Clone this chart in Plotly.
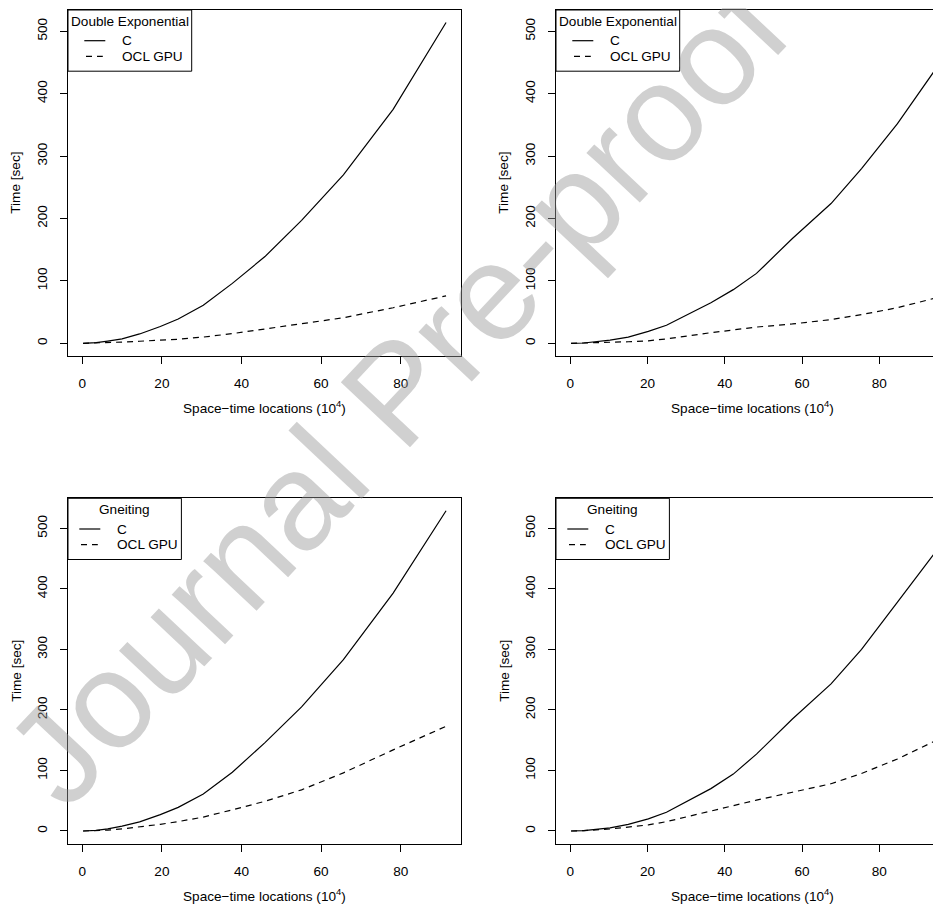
import plotly.graph_objects as go

# ---------------- data ----------------
x_left = [0.2, 3.5, 6.4, 10.0, 14.4, 19.6, 24.1, 30.4, 37.7, 45.9, 55.1, 65.6, 78.1, 91.4]
x_right = [0.2, 3.5, 10.3, 15.0, 20.2, 24.9, 36.4, 42.2, 48.2, 57.5, 67.5, 75.4, 84.7, 94.2]

dexp_left_c = [0, 1, 3.5, 7, 15, 27, 39, 61, 96, 139, 197, 270, 375, 514]
dexp_left_ocl = [0, 0.3, 1, 2, 3.3, 5, 6.5, 10, 15.5, 23, 31, 41, 57, 76]
dexp_right_c = [0, 0.5, 5, 10, 19, 29, 65, 86, 112, 168, 224, 280, 352, 436]
dexp_right_ocl = [0, 0.3, 1.5, 2.5, 4, 7, 17, 21, 26, 31, 38, 46, 57, 72]
gne_left_c = [0, 1, 3.5, 8, 15, 27, 39, 61, 97, 146, 205, 283, 393, 529]
gne_left_ocl = [0, 0.5, 1.5, 3.5, 6.5, 11, 15.5, 23, 35, 49, 68, 96, 134, 173]
gne_right_c = [0, 0.5, 5, 11, 20, 31, 70, 94, 127, 185, 243, 300, 378, 458]
gne_right_ocl = [0, 0.5, 3.3, 6, 10, 15.4, 33, 42, 51, 64, 78, 95, 119, 148]

series_names = ["C", "OCL GPU"]
panel_titles = ["Double Exponential", "Double Exponential", "Gneiting", "Gneiting"]
x_ticks = [0, 20, 40, 60, 80]
y_ticks = [0, 100, 200, 300, 400, 500]
x_title = "Space\u2212time locations (10<sup>4</sup>)"
y_title = "Time [sec]"
watermark = "Journal Pre-proof"

# ---------------- layout helpers ----------------
PAGE_W, PAGE_H = 941, 906
OFF = 8  # default body margin of the html page
W, H = PAGE_W - OFF, PAGE_H - OFF
FONT = "Liberation Sans, Arial, Helvetica, sans-serif"
FS = 13.6


def fx(p):  # page pixel x -> paper
    return (p - OFF) / W


def fy(p):  # page pixel y -> paper
    return 1 - (p - OFF) / H


panels = [
    # (xdata, c, ocl, xpix(l,r), ypix(t,b), xrange, yrange, mirror_y)
    (x_left, dexp_left_c, dexp_left_ocl, (68, 461), (10, 356), [-3.59, 95.15], [-20.35, 534.1], True),
    (x_right, dexp_right_c, dexp_right_ocl, (556, 941), (10, 356), [-3.70, 95.97], [-20.35, 534.1], False),
    (x_left, gne_left_c, gne_left_ocl, (68, 461), (498.3, 844), [-3.59, 95.15], [-21.5, 549.6], True),
    (x_right, gne_right_c, gne_right_ocl, (556, 941), (498.3, 844), [-3.70, 95.97], [-21.5, 549.6], False),
]

fig = go.Figure()
layout = dict(
    width=W, height=H,
    margin=dict(l=0, r=0, t=0, b=0),
    paper_bgcolor="white", plot_bgcolor="white",
    font=dict(family=FONT, size=FS, color="black"),
    showlegend=False,
)
shapes = []
annotations = []

DASH = "6px,5px"
tfont = dict(family=FONT, size=FS, color="black")

for i, (xd, yc, yo, (xl, xr), (yt, yb), xr_, yr_, mir) in enumerate(panels):
    n = "" if i == 0 else str(i + 1)
    xa, ya = "x" + n, "y" + n
    fig.add_trace(go.Scatter(x=xd, y=yc, mode="lines", name=series_names[0],
                             line=dict(color="black", width=1.2),
                             xaxis=xa, yaxis=ya))
    fig.add_trace(go.Scatter(x=xd, y=yo, mode="lines", name=series_names[1],
                             line=dict(color="black", width=1.2, dash=DASH),
                             xaxis=xa, yaxis=ya))
    layout["xaxis" + n] = dict(
        domain=[max(0, fx(xl)), min(1, fx(xr))], range=xr_, anchor=ya,
        tickvals=x_ticks, ticks="outside", ticklen=7, tickwidth=1, tickcolor="black",
        showline=True, linecolor="black", linewidth=1, mirror=True,
        showgrid=False, zeroline=False, automargin=False,
        tickfont=tfont, ticklabelstandoff=8,
    )
    layout["yaxis" + n] = dict(
        domain=[fy(yb), fy(yt)], range=yr_, anchor=xa,
        tickvals=y_ticks, ticks="outside", ticklen=7, tickwidth=1, tickcolor="black",
        showline=True, linecolor="black", linewidth=1, mirror=mir,
        showgrid=False, zeroline=False, automargin=False, tickangle=-90,
        tickfont=tfont, ticklabelstandoff=8,
    )
    # axis titles
    annotations.append(dict(text=x_title, xref="paper", yref="paper",
                            x=fx(xl + 196.5), y=fy(yb + 51), xanchor="center", yanchor="middle",
                            showarrow=False, font=tfont))
    annotations.append(dict(text=y_title, xref="paper", yref="paper",
                            x=fx(xl - 52.3), y=fy((yt + yb) / 2), xanchor="center", yanchor="middle",
                            textangle=-90, showarrow=False, font=tfont))
    # legend box
    bw = 123.7 if i < 2 else 113.4
    shapes.append(dict(type="rect", xref="paper", yref="paper",
                       x0=fx(xl), x1=fx(xl + bw), y0=fy(yt + 61.2), y1=fy(yt),
                       line=dict(color="black", width=1), fillcolor="white", layer="above"))
    annotations.append(dict(text=panel_titles[i], xref="paper", yref="paper",
                            x=fx(xl + bw / 2), y=fy(yt + 11.7), xanchor="center", yanchor="middle",
                            showarrow=False, font=tfont))
    lx0 = xl + (16.3 if i < 2 else 11.3)
    rows = [yt + 30.7, yt + 46.3]
    for r, (ry, nm) in enumerate(zip(rows, series_names)):
        shapes.append(dict(type="line", xref="paper", yref="paper",
                           x0=fx(lx0 + (0 if r == 0 else 1.7)), x1=fx(lx0 + (21 if r == 0 else 18.5)),
                           y0=fy(ry), y1=fy(ry),
                           line=dict(color="black", width=1.2, dash="solid" if r == 0 else DASH),
                           layer="above"))
        annotations.append(dict(text=nm, xref="paper", yref="paper",
                                x=fx(lx0 + 35.5), y=fy(ry), xanchor="left", yanchor="middle",
                                showarrow=False, font=tfont))

# watermark
annotations.append(dict(text=watermark, xref="paper", yref="paper",
                        x=fx(396), y=fy(392), xanchor="center", yanchor="middle",
                        textangle=-46.8, showarrow=False,
                        font=dict(family=FONT, size=138,
                                  color="rgba(150,150,150,0.45)")))

layout["shapes"] = shapes
layout["annotations"] = annotations
fig.update_layout(**layout)
fig.write_html("out.html")
